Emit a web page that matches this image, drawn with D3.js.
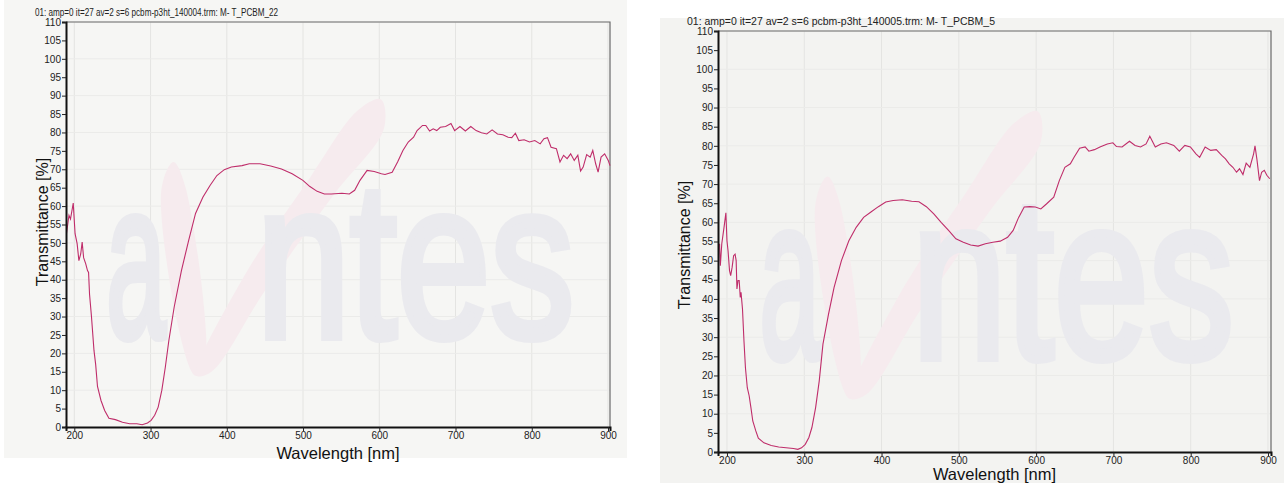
<!DOCTYPE html>
<html lang="en">
<head>
<meta charset="utf-8">
<script src="https://d3js.org/d3.v7.min.js"></script>
<style>
  body { margin: 0; background: #ffffff; }
  svg { display: block; font-family: "Liberation Sans", Arial, sans-serif; }
</style>
</head>
<body>
<script>

// spectrum 1 : pcbm-p3ht_140004 (T_PCBM_22)
const wavelength1 = [189.7,193,195,198.6,201,203.7,206,208.4,210.3,212.2,215,217.3,218.7,220,222.5,225.8,228,230.4,235,239.8,
  245.4,253.9,263.2,272.6,282,289,296,300.7,305.4,310,314.8,319.4,324,331,340.5,350,359,368.6,378,387,
  396.7,406,420,429.5,443.6,457.6,471.7,485.7,499.8,509,518.5,528,537,551,560.7,567.7,574.7,584,593.4,602.8,
  607.5,616.9,624,631,638,645,649.6,656.7,661,666,670.7,675.4,680,687,694,698.8,705.8,712.9,720,727,
  734,741,748,755,762,769,773.8,778.5,783,790,797,804,811,816,820.6,825.3,832.3,837,841.7,846.4,
  851,855.7,860.4,864,867.4,872,876.6,880,883.8,887,890.9,895.6,900.3,902.6];
const transmittance1 = [52.5,57.5,56.5,60.8,52.5,49.8,45.2,47,50.2,46,44.3,42.5,42,36,30,20.8,17,11,7.2,4.5,
  2.4,2.0,1.3,0.9,0.9,0.6,1.1,1.8,3.2,5.4,10,16.3,23.5,32.6,42.5,50.7,58,62.4,65.6,68.3,
  69.9,70.6,71,71.5,71.5,70.9,70.1,68.8,67,65.3,64,63.3,63.3,63.5,63.3,64.3,67,69.7,69.4,68.8,
  68.6,69.2,72,75.1,77.4,78.7,80.5,81.9,81.9,80.4,81,80.5,81.4,81.6,82.4,80.5,81.6,80.4,81.6,80.5,
  79.9,79.6,80.7,79.6,79.4,78.7,78.6,79.8,77.8,78,77.4,77.8,76.9,78.3,78.6,76,75.6,72,73.8,72.9,
  74.2,72.4,73.8,69.5,70.6,74,73.3,75.1,71.5,69.2,73.3,74.2,72.4,71];

// spectrum 2 : pcbm-p3ht_140005 (T_PCBM_5)
const wavelength2 = [190.4,191.4,193.3,196.2,198.6,200,201.4,203.3,204.8,206.7,208.6,210.5,211.9,212.9,214.3,215.8,217.2,218.2,220.1,222,
  223.9,226.3,228.7,231,233.4,237.3,240.6,247.8,257.3,266.9,276.4,286,291.7,296.5,301.3,306,309.9,314.7,319.4,324.2,
  331.4,338.6,348.1,357.7,367.2,376.8,386.3,395.9,405.4,415,426.9,438.9,448.4,458,467.6,477.1,486.7,496.2,505.8,515.3,
  524.9,534.4,544,553.6,563.1,570.3,577.4,584.6,591.8,599,606.1,613.3,622.8,630,637.2,644.3,649.1,656.3,663.4,668.2,
  675.4,682.6,692.1,699.3,704,711.2,720.8,728,735.1,742.3,747.1,754.2,761.4,768.6,778.1,785.3,792.4,799.6,806.8,811.6,
  818.7,825.9,833.1,840.2,845,849.8,854.6,859.3,863.2,867.6,871.8,876.6,881.4,883.2,885.6,889,891.8,895.2,898.5,902.3];
const transmittance2 = [54.4,48.7,54.4,58.7,62.5,55.2,52.6,47.4,46.1,48.3,51.3,51.7,50,42.6,44.8,44.8,40.4,41.7,37.3,29,
  22,16.8,14.7,11.6,8.1,5.5,3.6,2.4,1.7,1.3,1.1,0.9,0.7,1.1,2,3.8,6.4,11.6,18.6,28.2,
  36,43,50,55.2,58.7,61.3,62.7,64.1,65.3,65.7,65.9,65.5,65.4,64.1,62.2,60,57.9,55.7,54.8,54.1,
  53.8,54.4,54.8,55.1,56.1,57.9,61.3,64,64.1,64,63.5,64.8,66.6,70.9,74.4,75.3,77,79.4,79.7,78.6,
  79,79.7,80.5,80.8,79.8,79.7,81.2,80.1,79.7,80.5,82.5,79.7,80.5,80.8,80.1,78.6,80.1,79.7,77.9,77,
  79.7,78.8,79,77.5,76.6,75.3,74.4,73.1,74,72.5,75.5,74.4,77.9,80,76.6,70.9,73.1,73.6,72.3,71.4];

const xTicks = [200, 300, 400, 500, 600, 700, 800, 900];
const yTicks = d3.range(0, 111, 5);
const titles = ["01: amp=0 it=27 av=2 s=6 pcbm-p3ht_140004.trm: M- T_PCBM_22",
                "01: amp=0 it=27 av=2 s=6 pcbm-p3ht_140005.trm: M- T_PCBM_5"];

const width = 1284;
const height = 483;
const lineColor = "#bf2d6a";

const svg = d3.select("body")
  .append("svg")
  .attr("width", width)
  .attr("height", height);

// scanned pages
svg.append("rect").attr("x", 4).attr("y", 0).attr("width", 623).attr("height", 458).attr("fill", "#f6f6f4");
svg.append("rect").attr("x", 660).attr("y", 18).attr("width", 624).attr("height", 465).attr("fill", "#f3f3f1");

function drawPanel(p, wl, tr, title) {
  const x = d3.scaleLinear().domain(p.xDomain).range([p.left, p.right]);
  const y = d3.scaleLinear().domain([0, 110]).range([p.bottom, p.top]);
  const g = svg.append("g");

  // grid
  g.selectAll(".vg").data(xTicks).enter().append("line")
    .attr("x1", d => x(d)).attr("x2", d => x(d))
    .attr("y1", p.top).attr("y2", p.bottom)
    .attr("stroke", "#e4e4e2").attr("stroke-width", 1);
  g.selectAll(".hg").data(d3.range(10, 111, 10)).enter().append("line")
    .attr("x1", p.left).attr("x2", p.right)
    .attr("y1", d => y(d)).attr("y2", d => y(d))
    .attr("stroke", "#ebebe9").attr("stroke-width", 1);

  // avantes watermark (faint), letters squeezed horizontally
  const fs = (y(24.5) - y(56)) / 0.519;
  const wm = d3.line().x(d => x(d[0])).y(d => y(d[1])).curve(d3.curveCatmullRomClosed);
  g.append("path")
    .attr("d", wm([[314, 64], [330, 72], [346, 65], [370, 15], [358, 14]]))
    .attr("fill", "#f6ebee");
  g.append("path")
    .attr("d", wm([[360, 14], [420, 40], [510, 68], [572, 86], [602, 89], [606, 81], [540, 63], [450, 37], [380, 15]]))
    .attr("fill", "#f6ebee");
  [["a", 242, 320, 0.556], ["ntes", 439, 856, 1.89]].forEach(w => {
    const sx = (x(w[2]) - x(w[1])) / (w[3] * fs);
    g.append("text")
      .attr("transform", "translate(" + x(w[1]) + "," + y(24.5) + ") scale(" + sx + ",1)")
      .attr("font-size", fs)
      .attr("fill", "#eaeaee").attr("stroke", "#eaeaee").attr("stroke-width", 8)
      .text(w[0]);
  });

  // frame top / right
  g.append("path")
    .attr("d", "M" + p.left + "," + p.top + "H" + p.right + "V" + p.bottom)
    .attr("fill", "none").attr("stroke", "#6a6a6a").attr("stroke-width", 1.2);

  // spectrum
  const pts = wl.map((d, i) => [d, tr[i]]);
  g.append("path")
    .attr("d", d3.line().x(d => x(d[0])).y(d => y(d[1]))(pts))
    .attr("fill", "none")
    .attr("stroke", lineColor)
    .attr("stroke-width", 1.1);

  // axes
  const ax = g.append("g").attr("transform", "translate(0," + p.bottom + ")")
    .call(d3.axisBottom(x).tickValues(xTicks).tickSize(4).tickPadding(1));
  const ay = g.append("g").attr("transform", "translate(" + p.left + ",0)")
    .call(d3.axisLeft(y).tickValues(yTicks).tickSize(4).tickPadding(1));
  [ax, ay].forEach(a => {
    a.select(".domain").attr("stroke", "#111").attr("stroke-width", 2);
    a.selectAll(".tick line").attr("stroke", "#222");
    a.selectAll(".tick text").attr("font-size", 10).attr("fill", "#222")
      .attr("font-family", "'Liberation Sans', Arial, sans-serif");
  });

  // texts
  svg.append("text")
    .attr("x", p.titleX).attr("y", p.titleY)
    .attr("font-size", p.titleSize)
    .attr("textLength", p.titleLen).attr("lengthAdjust", "spacingAndGlyphs")
    .attr("fill", "#222")
    .text(title);
  svg.append("text")
    .attr("x", (p.left + p.right) / 2).attr("y", p.xLabelY)
    .attr("text-anchor", "middle")
    .attr("font-size", 16.5).attr("fill", "#111")
    .text("Wavelength [nm]");
  svg.append("text")
    .attr("transform", "translate(" + p.yLabelX + "," + p.yLabelY + ") rotate(-90)")
    .attr("text-anchor", "middle")
    .attr("font-size", 16).attr("fill", "#111")
    .text("Transmittance [%]");
}

drawPanel({ left: 66, right: 610, top: 22, bottom: 427, xDomain: [189.1, 902.6],
  titleX: 35, titleY: 16, titleSize: 10.5, titleLen: 243,
  xLabelY: 459, yLabelX: 48, yLabelY: 222 }, wavelength1, transmittance1, titles[0]);

drawPanel({ left: 718, right: 1271, top: 31, bottom: 452, xDomain: [188.4, 903.9],
  titleX: 687, titleY: 25, titleSize: 11, titleLen: 308,
  xLabelY: 480, yLabelX: 690, yLabelY: 245 }, wavelength2, transmittance2, titles[1]);

</script>
</body>
</html>
